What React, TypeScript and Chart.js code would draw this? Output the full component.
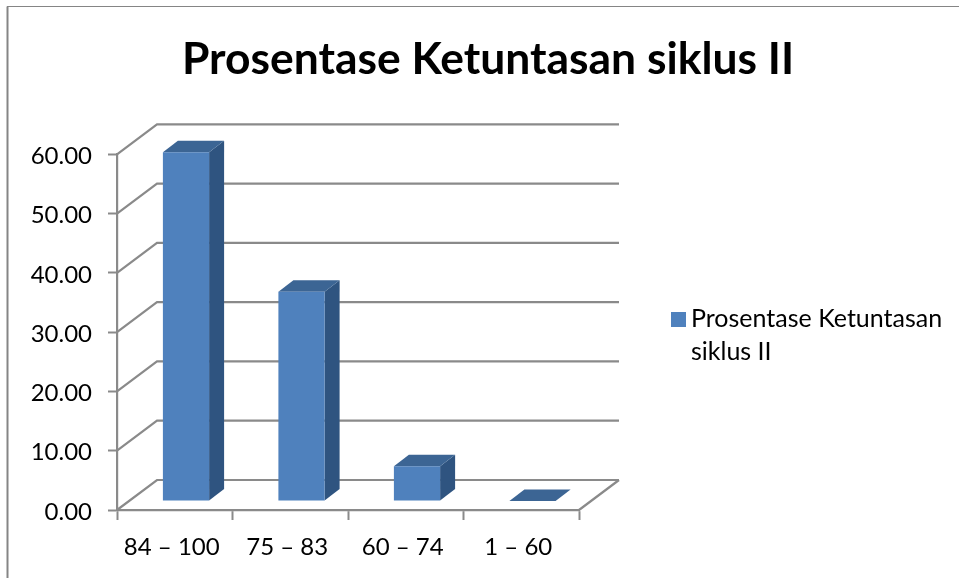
import React, { useEffect, useRef } from "react";
import { Chart, registerables } from "chart.js";

Chart.register(...registerables);

const seriesName = ["Prosentase Ketuntasan", "siklus II"];
const titleText = "Prosentase Ketuntasan siklus II";
const categories = ["84 – 100", "75 – 83", "60 – 74", "1 – 60"];
const values = [58.82, 35.29, 5.88, 0];
const yMin = 0;
const yMax = 60;
const yStep = 10;

const FRONT = "#4F81BD";
const SIDE = "#2F5480";
const TOP = "#3C6594";
const GRID = "#8A8A8A";
const WALL_DX = 40;
const WALL_DY = -30;
const BAR_DX = 11.25;
const BAR_DY = -9;
const DEPTH_X = 15;
const DEPTH_Y = -11.5;

const threeD = {
  id: "threeD",
  beforeDraw(chart: any) {
    const { ctx } = chart;
    ctx.save();
    ctx.strokeStyle = "#858585";
    ctx.lineWidth = 2;
    ctx.beginPath();
    ctx.moveTo(7.5, 578);
    ctx.lineTo(7.5, 6.5);
    ctx.stroke();
    ctx.lineWidth = 1;
    ctx.beginPath();
    ctx.moveTo(7, 6.5);
    ctx.lineTo(959, 6.5);
    ctx.stroke();
    ctx.restore();
  },
  beforeDatasetDraw(chart: any) {
    const { ctx, scales, chartArea } = chart;
    const { left, right, bottom } = chartArea;
    ctx.save();
    ctx.strokeStyle = GRID;
    ctx.lineWidth = 2.2;
    ctx.beginPath();
    for (let v = yMin; v <= yMax; v += yStep) {
      const y = scales.y.getPixelForValue(v);
      ctx.moveTo(left, y);
      ctx.lineTo(left + WALL_DX, y + WALL_DY);
      ctx.lineTo(right + WALL_DX, y + WALL_DY);
    }
    ctx.moveTo(right, bottom);
    ctx.lineTo(right + WALL_DX, bottom + WALL_DY);
    ctx.stroke();

    ctx.translate(BAR_DX, BAR_DY);
    const meta = chart.getDatasetMeta(0);
    meta.data.forEach((bar: any) => {
      const { x, y, base, width } = bar.getProps(["x", "y", "base", "width"], true);
      const l = x - width / 2;
      const r = x + width / 2;
      ctx.fillStyle = SIDE;
      ctx.beginPath();
      ctx.moveTo(r, y);
      ctx.lineTo(r + DEPTH_X, y + DEPTH_Y);
      ctx.lineTo(r + DEPTH_X, base + DEPTH_Y);
      ctx.lineTo(r, base);
      ctx.closePath();
      ctx.fill();
      ctx.fillStyle = TOP;
      ctx.beginPath();
      ctx.moveTo(l, y);
      ctx.lineTo(l + DEPTH_X, y + DEPTH_Y);
      ctx.lineTo(r + DEPTH_X, y + DEPTH_Y);
      ctx.lineTo(r, y);
      ctx.closePath();
      ctx.fill();
    });
  },
  afterDatasetDraw(chart: any) {
    chart.ctx.restore();
  },
  afterDraw(chart: any) {
    const { ctx } = chart;
    ctx.save();
    ctx.fillStyle = FRONT;
    ctx.fillRect(671, 312, 15, 15);
    ctx.fillStyle = "#000";
    ctx.font = "25px Lato";
    ctx.textBaseline = "alphabetic";
    ctx.textAlign = "left";
    seriesName.forEach((line, i) => ctx.fillText(line, 691, 327 + i * 33));
    ctx.restore();
  },
};

export default function App() {
  const ref = useRef<HTMLCanvasElement>(null);
  useEffect(() => {
    const chart = new Chart(ref.current!, {
      type: "bar",
      data: {
        labels: categories,
        datasets: [
          {
            label: titleText,
            data: values,
            backgroundColor: FRONT,
            barPercentage: 0.4,
            categoryPercentage: 1,
            clip: false,
          },
        ],
      } as any,
      options: {
        responsive: false,
        animation: false,
        layout: { padding: { left: 17, right: 0, top: 0, bottom: 0 } },
        plugins: {
          tooltip: { enabled: false },
          legend: { display: false },
          title: {
            display: true,
            text: titleText,
            color: "#000",
            font: { family: "Lato", size: 44.4, weight: "bold" },
            padding: { top: 33, bottom: 68 },
          },
        },
        scales: {
          x: {
            offset: true,
            grid: {
              drawOnChartArea: false,
              drawTicks: true,
              tickLength: 10,
              tickColor: GRID,
              tickWidth: 2,
            },
            border: { color: GRID, width: 2.2 },
            ticks: {
              color: "#000",
              font: { family: "Lato", size: 24 },
              padding: 13,
              labelOffset: -3,
              maxRotation: 0,
              autoSkip: false,
            },
            afterFit: (s: any) => {
              s.height = 68;
            },
          },
          y: {
            min: yMin,
            max: yMax,
            grid: {
              drawOnChartArea: false,
              drawTicks: true,
              tickLength: 9,
              tickColor: GRID,
              tickWidth: 2,
            },
            border: { color: GRID, width: 2.2 },
            ticks: {
              stepSize: yStep,
              color: "#000",
              font: { family: "Lato", size: 24 },
              padding: 16,
              labelOffset: 2,
              callback: (v: any) => Number(v).toFixed(2),
            },
            afterFit: (s: any) => {
              s.width = 100;
            },
          },
          gap: {
            position: "right",
            display: true,
            grid: { display: false },
            border: { display: false },
            ticks: { display: false },
            afterFit: (s: any) => {
              s.width = 380;
            },
          },
        },
      } as any,
      plugins: [threeD],
    });
    return () => chart.destroy();
  }, []);
  return (
    <div style={{ position: "absolute", left: 0, top: 0, width: 959, height: 578, background: "#fff" }}>
      <canvas ref={ref} width={959} height={578} style={{ display: "block" }} />
    </div>
  );
}
